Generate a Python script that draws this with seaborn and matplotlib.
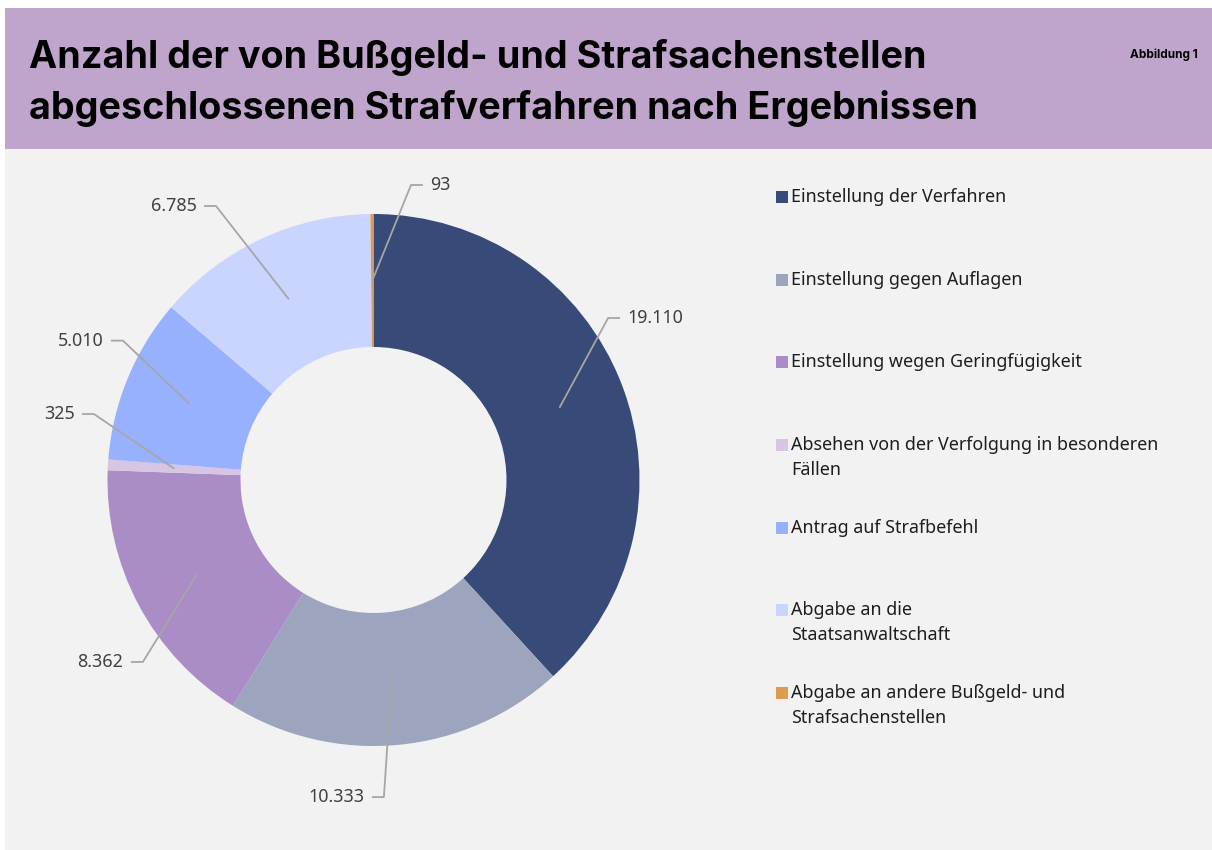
import matplotlib
matplotlib.use("Agg")
import matplotlib.pyplot as plt
from matplotlib.patches import Rectangle
import numpy as np
import seaborn as sns

# ---------------- data ----------------
categories = [
    "Einstellung der Verfahren",
    "Einstellung gegen Auflagen",
    "Einstellung wegen Geringfügigkeit",
    "Absehen von der Verfolgung in besonderen Fällen",
    "Antrag auf Strafbefehl",
    "Abgabe an die Staatsanwaltschaft",
    "Abgabe an andere Bußgeld- und Strafsachenstellen",
]
legend_labels = [
    "Einstellung der Verfahren",
    "Einstellung gegen Auflagen",
    "Einstellung wegen Geringfügigkeit",
    "Absehen von der Verfolgung in besonderen\nFällen",
    "Antrag auf Strafbefehl",
    "Abgabe an die\nStaatsanwaltschaft",
    "Abgabe an andere Bußgeld- und\nStrafsachenstellen",
]
values = [19110, 10333, 8362, 325, 5010, 6785, 93]
value_labels = ["19.110", "10.333", "8.362", "325", "5.010", "6.785", "93"]
colors = ["#374A78", "#9CA5BD", "#AA8CC7", "#D6C5E3", "#98B1FF", "#CAD5FF", "#DD9A51"]

title = "Anzahl der von Bußgeld- und Strafsachenstellen\nabgeschlossenen Strafverfahren nach Ergebnissen"
figure_tag = "Abbildung 1"

# label elbow positions (layout, in pie-radius units) and side of text
label_elbows = [(0.882, 0.609), (0.039, -1.192), (-0.867, -0.684), (-1.051, 0.248),
                (-0.942, 0.524), (-0.592, 1.03), (0.141, 1.109)]
label_sides = [1, -1, -1, -1, -1, -1, 1]

# ---------------- style ----------------
sns.set_theme(style="white")
plt.rcParams["font.family"] = ["Noto Sans", "DejaVu Sans"]

BG = "#F2F2F2"
BANNER = "#BFA5CC"
W, H = 1212, 850
fig = plt.figure(figsize=(W / 100, H / 100), dpi=100, facecolor="white")

def fx(px):
    return px / W

def fy(py):
    return 1 - py / H

# panels
fig.patches.append(Rectangle((fx(5), 0), fx(1212 - 5), (850 - 149) / H, transform=fig.transFigure,
                             facecolor=BG, edgecolor="none", zorder=-2))
fig.patches.append(Rectangle((fx(5), fy(149)), fx(1212 - 5), (149 - 8) / H, transform=fig.transFigure,
                             facecolor=BANNER, edgecolor="none", zorder=-2))

fig.text(fx(29), fy(83), title, fontsize=27.2, fontweight="bold", family=["Inter", "DejaVu Sans"],
         color="#000000", ha="left", va="center", linespacing=1.45)
fig.text(fx(1198), fy(55), figure_tag, fontsize=8.5, fontweight="bold", family=["Inter", "DejaVu Sans"],
         color="#000000", ha="right", va="center")

# ---------------- donut ----------------
cx, cy, R = 373.5, 480, 266
half = 1.38
ax = fig.add_axes([fx(cx - half * R), (H - cy - half * R) / H, 2 * half * R / W, 2 * half * R / H])
ax.set_zorder(5)
ax.set_facecolor("none")
ax.patch.set_alpha(0)
wedges, _ = ax.pie(values, colors=colors, startangle=90, counterclock=False, radius=1,
                   wedgeprops=dict(width=0.5, edgecolor="none", linewidth=0))
ax.set_xlim(-half, half)
ax.set_ylim(-half, half)
ax.set_aspect("equal")
ax.axis("off")

line_col = "#A6A6A6"
for w, lab, (ex, ey), side in zip(wedges, value_labels, label_elbows, label_sides):
    ang = np.deg2rad((w.theta1 + w.theta2) / 2)
    axp, ayp = 0.75 * np.cos(ang), 0.75 * np.sin(ang)
    hx = ex + side * 0.045
    ax.plot([axp, ex, hx], [ayp, ey, ey], color=line_col, lw=1.3, solid_capstyle="butt")
    ax.text(hx + side * 0.028, ey, lab, ha="left" if side > 0 else "right", va="center",
            fontsize=12.9, color="#404040")

# ---------------- legend ----------------
row_y = [197, 280, 362, 445, 528, 610, 693]
for lab, col, y in zip(legend_labels, colors, row_y):
    fig.patches.append(Rectangle((fx(776), fy(y + 6)), fx(12), 12 / H, transform=fig.transFigure,
                                 facecolor=col, edgecolor="none", zorder=2))
    for i, line in enumerate(lab.split("\n")):
        fig.text(fx(791), fy(y + i * 25), line, fontsize=12.9, color="#1E1E1E",
                 ha="left", va="center")

fig.savefig("out.png", dpi=100, facecolor=fig.get_facecolor())
